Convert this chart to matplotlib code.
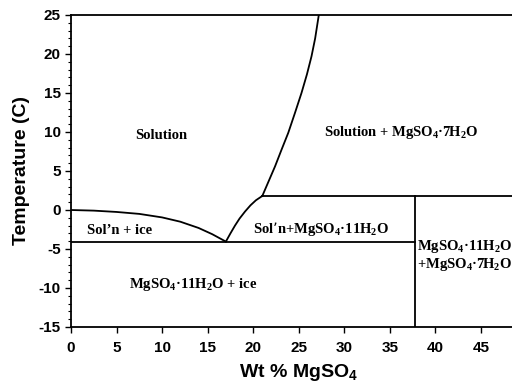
import matplotlib.pyplot as plt
from matplotlib.ticker import MultipleLocator

plt.rcParams['mathtext.default'] = 'regular'
plt.rcParams['axes.unicode_minus'] = False

# phase boundaries (wt % MgSO4, temperature C)
ice_x = [0, 2.5, 5, 7.5, 10, 12, 14, 15.5, 17]
ice_t = [0, -0.08, -0.25, -0.5, -0.95, -1.5, -2.3, -3.1, -4.05]
undeca_x = [17, 17.5, 18, 18.5, 19.1, 19.7, 20.3, 21]
undeca_t = [-4.05, -3.0, -2.0, -1.1, -0.2, 0.6, 1.25, 1.8]
hepta_x = [21, 21.7, 22.4, 23.1, 23.85, 24.6, 25.3, 25.9, 26.4, 26.8, 27.2]
hepta_t = [1.8, 3.7, 5.6, 7.7, 9.9, 12.5, 15.0, 17.4, 19.7, 22.0, 25]
eutectic_t = -4.05
peritectic_t = 1.8
peritectic_x = 21
hydrate_x = 37.8

labels = [
    (9.9, 9.6, 'Solution'),
    (36.2, 9.9, 'Solution + MgSO$_4$·7H$_2$O'),
    (5.3, -2.6, 'Sol\u2019n + ice'),
    (27.5, -2.4, 'Sol\u2019n+MgSO$_4$·11H$_2$O'),
    (13.4, -9.5, 'MgSO$_4$·11H$_2$O + ice'),
    (43.2, -5.8, 'MgSO$_4$·11H$_2$O\n+MgSO$_4$·7H$_2$O'),
]

fig = plt.figure(figsize=(5.12, 3.85), dpi=100)
ax = fig.add_axes([71 / 512, 1 - 327 / 385, 455.5 / 512, 312 / 385])

lw = 1.3
ax.plot(ice_x, ice_t, color='k', lw=lw)
ax.plot(undeca_x, undeca_t, color='k', lw=lw)
ax.plot(hepta_x, hepta_t, color='k', lw=lw)
ax.plot([0, hydrate_x], [eutectic_t, eutectic_t], color='k', lw=lw)
ax.plot([peritectic_x, 50], [peritectic_t, peritectic_t], color='k', lw=lw)
ax.plot([hydrate_x, hydrate_x], [-15, peritectic_t], color='k', lw=lw)

for x, y, s in labels:
    ax.text(x, y, s, ha='center', va='center', fontsize=10.5,
            family='Liberation Serif', fontweight='bold', linespacing=1.1)

ax.set_xlim(0, 50)
ax.set_ylim(-15, 25)
ax.xaxis.set_major_locator(MultipleLocator(5))
ax.yaxis.set_major_locator(MultipleLocator(5))
ax.yaxis.set_minor_locator(MultipleLocator(1))
ax.tick_params(which='major', length=4, width=1, direction='out')
ax.tick_params(which='minor', length=2.5, width=0.8, direction='out')
ax.tick_params(axis='x', pad=6)
ax.set_xticks(range(0, 50, 5))
for lab in ax.get_xticklabels() + ax.get_yticklabels():
    lab.set_fontfamily('Liberation Sans')
    lab.set_fontweight('bold')
    lab.set_fontsize(11)
for sp in ax.spines.values():
    sp.set_linewidth(1.3)

ax.set_xlabel('Wt % MgSO$_4$', family='Liberation Sans', fontweight='bold', fontsize=14, labelpad=5)
ax.set_ylabel('Temperature (C)', family='Liberation Sans', fontweight='bold', fontsize=14, labelpad=6)

fig.savefig('out.png', dpi=100)
